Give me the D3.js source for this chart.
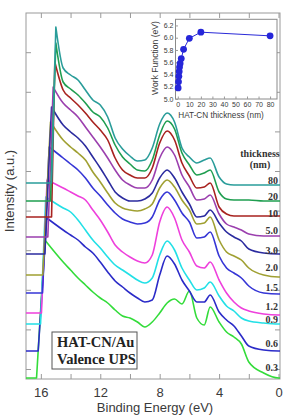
<!DOCTYPE html>
<html>
<head>
<meta charset="utf-8">
<script src="https://cdnjs.cloudflare.com/ajax/libs/d3/7.8.5/d3.min.js"></script>
<style>
body{margin:0;background:#fff;}
svg{display:block;}
</style>
</head>
<body>
<div id="chart"></div>
<script>
// film thickness of each spectrum, top to bottom
var thicknessLabels = ["80","20","10","5.0","3.0","2.0","1.5","1.2","0.9","0.6","0.3"];
var colours = ["#2a9d9a","#1f9e50","#a8221f","#9b3fae","#2b2b9f","#a0a032","#3636d6","#ee40dc","#22e0e6","#2b2bc8","#33dc3a"];

// secondary electron cutoff, peak of the cutoff and flat level (a.u.)
var cutoffEnergy = [15.28,15.35,15.28,15.53,15.73,15.87,15.89,15.96,16.02,16.18,16.29];
var peakEnergy = [14.99,14.99,15.06,15.17,15.28,15.35,15.44,15.58,15.67,15.6,15.73];
var peakIntensity = [342,326,307,282,262,247,222,189,172,151,129];
var baseIntensity = [186,168,152,132,115,94,76,56,45,18,-9];

var gridEnergy = [14.5,14,13.5,13,12.5,12,11.5,11,10.5,10,9.5,9,8.5,8,7.5,7,6.5,6,5.5,5,4.6,4,3.5,3,2.5,2,1,0,-0.1];

var spec80  = [301,294,289,279,269,264,252,231,220,213,208,209,221,245,256,247,221,212,206,209,211,192,185,184,184,184,184,184,184];
var spec20  = [287,280,274,266,257,252,241,224,212,205,199,198,209,234,248,240,216,204,194,196,199,177,170,169,169,169,168,168,168];
var spec10  = [279,271,264,256,247,239,229,211,199,194,191,191,201,226,238,229,206,193,181,182,186,162,155,153,153,153,153,153,153];
var spec5   = [266,259,252,242,232,222,211,199,189,184,181,181,189,211,222,214,194,182,169,170,174,155,145,142,139,135,133,133,133];
var spec3   = [244,237,231,223,212,201,189,177,171,168,168,170,176,191,199,191,177,165,152,153,159,146,137,132,128,120,116,115,115];
var spec2   = [229,222,216,209,197,187,176,166,161,159,158,160,165,181,189,182,169,159,145,146,152,129,117,113,109,101,94,92,92];
var spec1_5 = [211,205,199,191,181,173,164,156,150,147,145,146,152,169,177,169,156,147,131,132,137,113,101,96,91,83,76,75,75];
var spec1_2 = [181,177,173,169,159,149,137,124,117,112,108,106,114,147,162,151,129,117,103,101,107,89,76,67,61,58,55,54,54];
var spec0_9 = [161,157,149,139,129,121,112,104,99,94,89,86,91,114,128,119,101,89,79,81,87,73,63,58,51,48,46,45,45];
var spec0_6 = [139,134,129,122,116,107,97,88,82,76,71,67,69,94,113,105,89,78,67,67,74,57,49,43,33,23,19,18,18];
var spec0_3 = [107,99,91,84,77,71,66,59,53,51,47,42,47,56,66,70,65,78,51,44,62,47,37,32,25,7,-4,-9,-9];
var spectra = [spec80,spec20,spec10,spec5,spec3,spec2,spec1_5,spec1_2,spec0_9,spec0_6,spec0_3];

// where each thickness label sits (a.u.)
var labelIntensity = [189,173,156,139,119,102,82,63,50,26,2];

// inset: work function vs thickness
var insetThickness = [0.3,0.6,0.9,1.2,1.5,2.0,3.0,5.0,10,20,80];
var workFunction = [5.18,5.28,5.37,5.45,5.52,5.58,5.66,5.81,5.99,6.09,6.03];

var xTicks = [16,14,12,10,8,6,4,2,0];
var insetXTicks = [0,10,20,30,40,50,60,70,80];
var insetYTicks = [5.0,5.2,5.4,5.6,5.8,6.0,6.2];

function init(){
    var w = 286, h = 419;
    var left = 26, right = 280, top = 13, bottom = 379;
    var sans = "'Liberation Sans', Arial, sans-serif";
    var serif = "'Liberation Serif', 'Times New Roman', serif";

    var svg = d3.select("#chart").append("svg")
        .attr("width", w).attr("height", h);

    var x = d3.scaleLinear().domain([17, -0.1]).range([left, right]);
    var y = d3.scaleLinear().domain([-10, 356]).range([bottom, top]);

    // axes, ticks pointing inward on all four sides
    var yTicks = d3.range(0, 330, 39.6);
    svg.append("g").attr("transform", "translate(0," + bottom + ")")
        .call(d3.axisBottom(x).tickValues(xTicks).tickSizeInner(-5).tickSizeOuter(0).tickPadding(9)
            .tickFormat(function(d){ return d % 4 === 0 ? d : ""; }))
        .call(styleAxis, 13);
    svg.append("g").attr("transform", "translate(0," + top + ")")
        .call(d3.axisTop(x).tickValues(xTicks).tickSizeInner(-5).tickSizeOuter(0).tickFormat(""))
        .call(styleAxis, 13);
    svg.append("g").attr("transform", "translate(" + left + ",0)")
        .call(d3.axisLeft(y).tickValues(yTicks).tickSizeInner(-5).tickSizeOuter(0).tickFormat(""))
        .call(styleAxis, 13);
    svg.append("g").attr("transform", "translate(" + right + ",0)")
        .call(d3.axisRight(y).tickValues(yTicks).tickSizeInner(-5).tickSizeOuter(0).tickFormat(""))
        .call(styleAxis, 13);
    svg.append("rect").attr("x", left).attr("y", top)
        .attr("width", right - left).attr("height", bottom - top)
        .attr("fill", "none").attr("stroke", "#9a9a9a").attr("stroke-width", 1);

    function styleAxis(g, fs){
        g.select(".domain").remove();
        g.selectAll(".tick line").attr("stroke", "#9a9a9a");
        g.selectAll(".tick text").attr("fill", "#3a3a3a")
            .style("font-family", sans).style("font-size", fs + "px");
    }

    // axis titles
    svg.append("text").attr("x", 155).attr("y", 412)
        .attr("text-anchor", "middle").attr("fill", "#3a3a3a")
        .style("font-family", sans).style("font-size", "13px")
        .text("Binding Energy (eV)");
    svg.append("text").attr("transform", "translate(14,191) rotate(-90)")
        .attr("text-anchor", "middle").attr("fill", "#3a3a3a")
        .style("font-family", sans).style("font-size", "13px")
        .text("Intensity (a.u.)");

    // spectra: straight cutoff edge, smooth valence part
    var edge = d3.line()
        .x(function(d){ return x(d[0]); })
        .y(function(d){ return y(d[1]); });
    var line = d3.line()
        .x(function(d){ return x(d[0]); })
        .y(function(d){ return y(d[1]); })
        .curve(d3.curveMonotoneX);

    var series = spectra.map(function(s, i){
        var head = [[17, baseIntensity[i]], [cutoffEnergy[i], baseIntensity[i]], [peakEnergy[i], peakIntensity[i]]];
        var tail = [[peakEnergy[i], peakIntensity[i]]];
        gridEnergy.forEach(function(e, j){ tail.push([e, s[j]]); });
        return {head: head, tail: tail, colour: colours[i], label: thicknessLabels[i], at: labelIntensity[i]};
    });

    svg.selectAll("path.spec")
        .data(series.slice().reverse())
        .enter().append("path")
        .attr("class", "spec")
        .attr("d", function(d){ return edge(d.head) + line(d.tail).replace(/^M/, "L"); })
        .attr("fill", "none")
        .attr("stroke", function(d){ return d.colour; })
        .attr("stroke-width", 1.6)
        .attr("stroke-linejoin", "round");

    // thickness labels on the right
    svg.append("text").attr("x", 260).attr("y", 157).attr("text-anchor", "middle")
        .attr("fill", "#333").style("font-family", serif).style("font-weight", "bold").style("font-size", "10px")
        .text("thickness");
    svg.append("text").attr("x", 260).attr("y", 168).attr("text-anchor", "middle")
        .attr("fill", "#333").style("font-family", serif).style("font-weight", "bold").style("font-size", "10px")
        .text("(nm)");
    svg.selectAll("text.lab")
        .data(series)
        .enter().append("text")
        .attr("class", "lab")
        .attr("x", 278)
        .attr("y", function(d){ return y(d.at); })
        .attr("dy", "0.35em")
        .attr("text-anchor", "end")
        .attr("fill", "#333")
        .style("font-family", serif).style("font-weight", "bold").style("font-size", "10px")
        .text(function(d){ return d.label; });

    // sample box
    var box = svg.append("g");
    box.append("rect").attr("x", 52).attr("y", 332).attr("width", 85).attr("height", 37)
        .attr("fill", "#fff").attr("stroke", "#555").attr("stroke-width", 1);
    box.append("text").attr("x", 57).attr("y", 347)
        .attr("fill", "#222").style("font-family", serif).style("font-weight", "bold").style("font-size", "14.5px")
        .text("HAT-CN/Au");
    box.append("text").attr("x", 57).attr("y", 364)
        .attr("fill", "#222").style("font-family", serif).style("font-weight", "bold").style("font-size", "14.5px")
        .text("Valence UPS");

    // inset
    var ix = d3.scaleLinear().domain([-2, 86]).range([175.5, 277]);
    var iy = d3.scaleLinear().domain([5.0, 6.3]).range([99, 19.3]);
    var inset = svg.append("g");
    inset.append("rect").attr("x", 175.5).attr("y", 19.3).attr("width", 101.5).attr("height", 79.7)
        .attr("fill", "#fff").attr("stroke", "#8a8a8a").attr("stroke-width", 1);
    inset.append("g").attr("transform", "translate(0,99)")
        .call(d3.axisBottom(ix).tickValues(insetXTicks).tickSizeInner(-2.5).tickSizeOuter(0).tickPadding(3))
        .call(styleAxis, 7);
    inset.append("g").attr("transform", "translate(175.5,0)")
        .call(d3.axisLeft(iy).tickValues(insetYTicks).tickSizeInner(-2.5).tickSizeOuter(0).tickPadding(2)
            .tickFormat(d3.format(".1f")))
        .call(styleAxis, 7);

    var wf = insetThickness.map(function(t, i){ return [t, workFunction[i]]; });
    inset.append("path")
        .attr("d", d3.line().x(function(d){ return ix(d[0]); }).y(function(d){ return iy(d[1]); })(wf))
        .attr("fill", "none").attr("stroke", "#2a2ad8").attr("stroke-width", 1);
    inset.selectAll("circle")
        .data(wf)
        .enter().append("circle")
        .attr("cx", function(d){ return ix(d[0]); })
        .attr("cy", function(d){ return iy(d[1]); })
        .attr("r", 3.4)
        .attr("fill", "#2626d9");

    inset.append("text").attr("transform", "translate(158,58) rotate(-90)")
        .attr("text-anchor", "middle").attr("fill", "#3a3a3a")
        .style("font-family", sans).style("font-size", "8.6px")
        .text("Work Function (eV)");
    inset.append("text").attr("x", 221).attr("y", 118)
        .attr("text-anchor", "middle").attr("fill", "#3a3a3a")
        .style("font-family", sans).style("font-size", "8.2px")
        .text("HAT-CN thickness (nm)");
}
window.onload = init;
</script>
</body>
</html>
